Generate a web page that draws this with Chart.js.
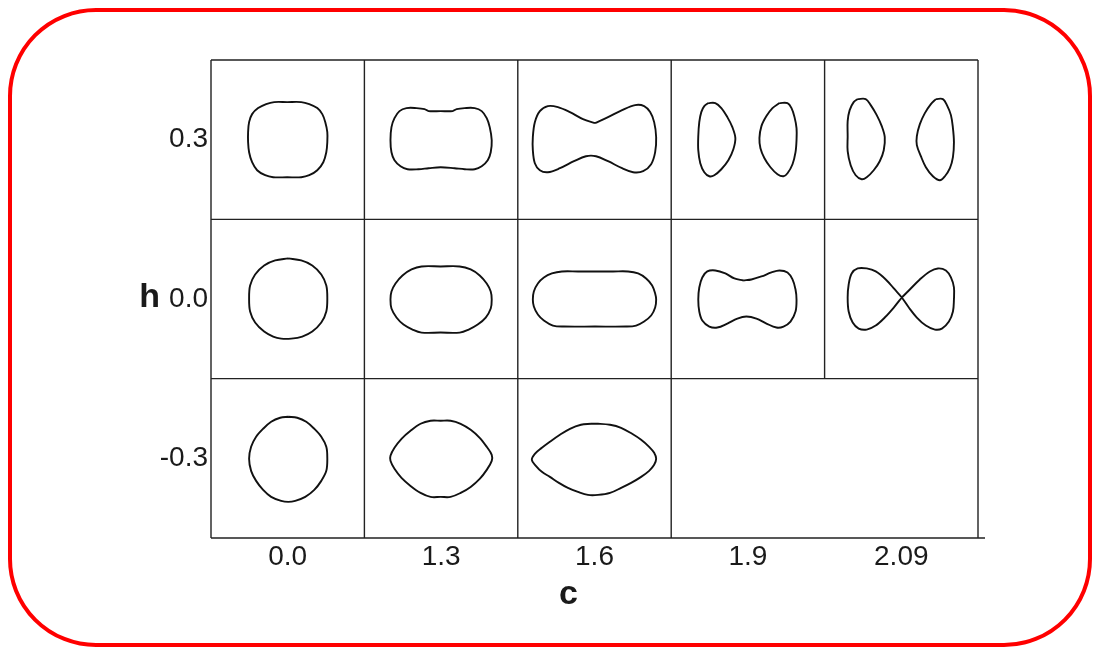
<!DOCTYPE html>
<html>
<head>
<meta charset="utf-8">
<script src="https://cdn.jsdelivr.net/npm/chart.js@4.4.1/dist/chart.umd.min.js"></script>
<style>
  html, body { margin: 0; padding: 0; background: #fff; }
  #wrap { position: relative; width: 1096px; height: 650px; }
  #wrap canvas { position: absolute; left: 0; top: 0; }
  #frame {
    position: absolute; left: 8px; top: 8px; width: 1084px; height: 639px;
    box-sizing: border-box; border: 4px solid #f00; border-radius: 88px;
    pointer-events: none;
  }
</style>
</head>
<body>
<div id="wrap">
  <canvas id="shapesChart" width="1096" height="650"></canvas>
  <div id="frame"></div>
</div>
<script>
const cLabels = ['0.0', '1.3', '1.6', '1.9', '2.09'];
const hLabels = ['0.3', '0.0', '-0.3'];

// outlines in local cell units: 153 across, 159 down, origin at the cell's top-left
const CELL_W = 153;
const CELL_H = 159;

// h = 0.3
const h03c00 = [[76,42],[90,42],[98,44],[106,48],[111,54],[114,62],[116,72],[116,82],[115,92],[112,102],[106,110],[98,115],[90,117],[76,117],[62,117],[54,115],[46,110],[41,102],[38,92],[37,82],[37,72],[38,62],[41,54],[47,48],[55,44],[63,42]];
const h03c13 = [[76,51],[88,51],[92,49],[100,48],[110,48],[117,51],[122,58],[125,67],[127,80],[126,92],[123,100],[117,106],[110,109],[100,109],[90,108],[76,107],[64,108],[54,109],[43,109],[36,106],[30,100],[27,92],[26,80],[27,67],[30,58],[35,51],[42,48],[52,48],[60,49],[64,51]];
const h03c16 = [[77,63],[90,57],[104,50],[117,45],[126,46],[132,52],[136,62],[138,77],[137,92],[133,104],[125,111],[115,112],[104,108],[90,101],[78,96],[68,96],[56,101],[42,108],[30,112],[22,110],[17,103],[15,90],[15,77],[17,62],[22,51],[30,46],[40,47],[52,52],[65,59]];
const h03c19L = [[37,43],[44,43],[50,48],[56,57],[61,67],[64,78],[62,89],[57,100],[50,109],[43,115],[38,116],[33,112],[29,103],[27,90],[27,76],[28,62],[30,52],[33,46]];
const h03c19R = [[108,43],[116,43],[120,48],[123,57],[125,68],[125,80],[124,92],[121,104],[116,113],[112,116],[106,114],[99,107],[93,98],[89,88],[88,78],[90,66],[95,56],[101,48]];
const h03c209L = [[33,39],[41,39],[46,45],[52,55],[57,66],[60,77],[59,90],[55,101],[49,110],[42,117],[37,119],[31,115],[26,105],[23,91],[23,76],[23,61],[25,50],[29,42]];
const h03c209R = [[111,39],[118,39],[122,45],[126,55],[128,68],[129,82],[128,97],[125,108],[120,116],[115,120],[108,116],[101,107],[96,96],[92,85],[92,76],[95,64],[100,53],[106,44]];

// h = 0.0
const h00c00 = [[77,39],[90,41],[101,46],[110,55],[115,66],[116,79],[115,92],[110,103],[101,112],[91,117],[80,119],[70,119],[62,117],[53,112],[44,103],[39,92],[38,79],[39,66],[44,55],[53,46],[64,41]];
const h00c13 = [[76,47],[95,47],[106,50],[115,56],[122,64],[126,72],[127,80],[126,89],[121,98],[113,105],[104,110],[95,113],[76,113],[57,113],[48,110],[39,105],[32,98],[27,89],[26,80],[27,72],[31,64],[38,56],[47,50],[57,47]];
const h00c16 = [[77,52],[95,52],[110,52],[120,54],[128,59],[134,66],[137,74],[138,80],[137,88],[133,96],[126,102],[118,106],[108,107],[77,107],[46,107],[35,106],[26,101],[20,95],[16,87],[15,80],[16,72],[20,64],[26,58],[34,54],[44,52],[60,52]];
const h00c19 = [[72,61],[80,60],[90,57],[100,53],[108,51],[116,53],[121,60],[124,70],[125,80],[124,92],[119,102],[112,107],[105,108],[95,104],[85,99],[75,97],[66,99],[56,104],[46,108],[38,107],[31,101],[28,92],[27,80],[28,68],[31,58],[36,52],[44,51],[54,54],[63,59]];
const h00c209 = [[77,78],[85,70],[95,60],[105,52],[113,49],[121,51],[126,58],[129,68],[129,80],[128,92],[124,102],[117,109],[110,110],[101,106],[92,98],[84,88],[77,78],[70,70],[61,60],[51,52],[42,49],[33,49],[27,54],[24,65],[23,78],[24,92],[28,103],[34,109],[42,110],[51,106],[60,98],[69,88]];

// h = -0.3
const hm03c00 = [[77,38],[86,39],[95,43],[103,50],[110,58],[115,68],[116,80],[115,92],[110,102],[103,111],[94,118],[84,122],[77,123],[70,122],[60,118],[52,111],[45,102],[40,92],[38,80],[40,68],[45,58],[52,50],[60,43],[69,39]];
const hm03c13 = [[76,42],[86,42],[96,45],[106,51],[115,59],[122,68],[127,76],[127,82],[122,91],[115,100],[106,108],[96,114],[86,118],[76,118],[66,118],[56,114],[46,107],[37,99],[30,90],[26,82],[26,77],[30,69],[37,60],[46,52],[56,45],[66,42]];
const hm03c16 = [[73,45],[80,45],[92,46],[103,49],[114,55],[123,61],[131,68],[136,74],[138,80],[136,86],[131,92],[123,98],[113,104],[103,109],[92,114],[80,116],[70,116],[60,113],[50,109],[41,104],[32,98],[24,93],[18,87],[14,81],[17,75],[24,69],[32,63],[42,56],[52,50],[63,46]];

// row = index into hLabels, col = index into cLabels
const panels = [
  { row: 0, col: 0, loops: [h03c00] },
  { row: 0, col: 1, loops: [h03c13] },
  { row: 0, col: 2, loops: [h03c16] },
  { row: 0, col: 3, loops: [h03c19L, h03c19R] },
  { row: 0, col: 4, loops: [h03c209L, h03c209R] },
  { row: 1, col: 0, loops: [h00c00] },
  { row: 1, col: 1, loops: [h00c13] },
  { row: 1, col: 2, loops: [h00c16] },
  { row: 1, col: 3, loops: [h00c19] },
  { row: 1, col: 4, loops: [h00c209] },
  { row: 2, col: 0, loops: [hm03c00] },
  { row: 2, col: 1, loops: [hm03c13] },
  { row: 2, col: 2, loops: [hm03c16] }
];

const FONT = "'Liberation Sans', Arial, Helvetica, sans-serif";
const INK = '#1a1a1a';

function closedLoop(loop, row, col) {
  const pts = loop.map(([u, v]) => ({ x: col + u / CELL_W, y: row + v / CELL_H }));
  pts.push(pts[0]);
  return pts;
}

function hasPanel(row, col) {
  return panels.some(p => p.row === row && p.col === col);
}

const datasets = [];
panels.forEach(p => {
  p.loops.forEach(loop => {
    datasets.push({
      data: closedLoop(loop, p.row, p.col),
      showLine: true,
      borderColor: '#111',
      borderWidth: 1.9,
      pointRadius: 0,
      tension: 0.35,
      fill: false
    });
  });
});

// cell rules: the empty lower-right cells share one box
const cellBorders = {
  id: 'cellBorders',
  afterDatasetsDraw(chart) {
    const { ctx, scales: { x, y } } = chart;
    const nCols = cLabels.length;
    const nRows = hLabels.length;
    ctx.save();
    ctx.strokeStyle = '#222';
    ctx.lineWidth = 1.4;
    ctx.beginPath();
    for (let r = 0; r <= nRows; r++) {
      const py = y.getPixelForValue(r);
      ctx.moveTo(x.getPixelForValue(0), py);
      ctx.lineTo(x.getPixelForValue(nCols) + (r === nRows ? 7 : 0), py);
    }
    for (let c = 0; c <= nCols; c++) {
      const px = x.getPixelForValue(c);
      for (let r = 0; r < nRows; r++) {
        if (c === 0 || c === nCols || hasPanel(r, c - 1) || hasPanel(r, c)) {
          ctx.moveTo(px, y.getPixelForValue(r));
          ctx.lineTo(px, y.getPixelForValue(r + 1));
        }
      }
    }
    ctx.stroke();
    ctx.restore();
  },
  afterDraw(chart) {
    // axis letters: upright "h" beside the middle row, "c" under the labels
    const { ctx, scales: { x, y } } = chart;
    ctx.save();
    ctx.fillStyle = INK;
    ctx.font = 'bold 34px ' + FONT;
    ctx.textAlign = 'right';
    ctx.textBaseline = 'alphabetic';
    ctx.fillText('h', 160, y.getPixelForValue(1.5) + 8);
    ctx.textAlign = 'center';
    ctx.textBaseline = 'middle';
    ctx.fillText('c', x.getPixelForValue(2.33), x.bottom - 55);
    ctx.restore();
  }
};

const ctx = document.getElementById('shapesChart').getContext('2d');
new Chart(ctx, {
  type: 'scatter',
  data: { datasets },
  plugins: [cellBorders],
  options: {
    responsive: false,
    animation: false,
    devicePixelRatio: 1,
    layout: { padding: { top: 60, right: 118, bottom: 0, left: 0 } },
    plugins: { legend: { display: false }, tooltip: { enabled: false } },
    scales: {
      x: {
        type: 'linear',
        min: 0,
        max: cLabels.length,
        grid: { display: false, drawTicks: false },
        border: { display: false },
        afterBuildTicks: scale => {
          scale.ticks = cLabels.map((_, i) => ({ value: i + 0.5 }));
        },
        afterFit: scale => { scale.height = 112; },
        ticks: {
          autoSkip: false,
          maxRotation: 0,
          padding: 2,
          color: INK,
          font: { family: FONT, size: 28 },
          callback: (value, index) => cLabels[index]
        }
      },
      y: {
        type: 'linear',
        reverse: true,
        min: 0,
        max: hLabels.length,
        grid: { display: false, drawTicks: false },
        border: { display: false },
        afterBuildTicks: scale => {
          scale.ticks = hLabels.map((_, i) => ({ value: i + 0.5 }));
        },
        afterFit: scale => { scale.width = 211; },
        ticks: {
          autoSkip: false,
          padding: 3,
          color: INK,
          font: { family: FONT, size: 28 },
          callback: (value, index) => hLabels[index]
        }
      }
    }
  }
});
</script>
</body>
</html>
